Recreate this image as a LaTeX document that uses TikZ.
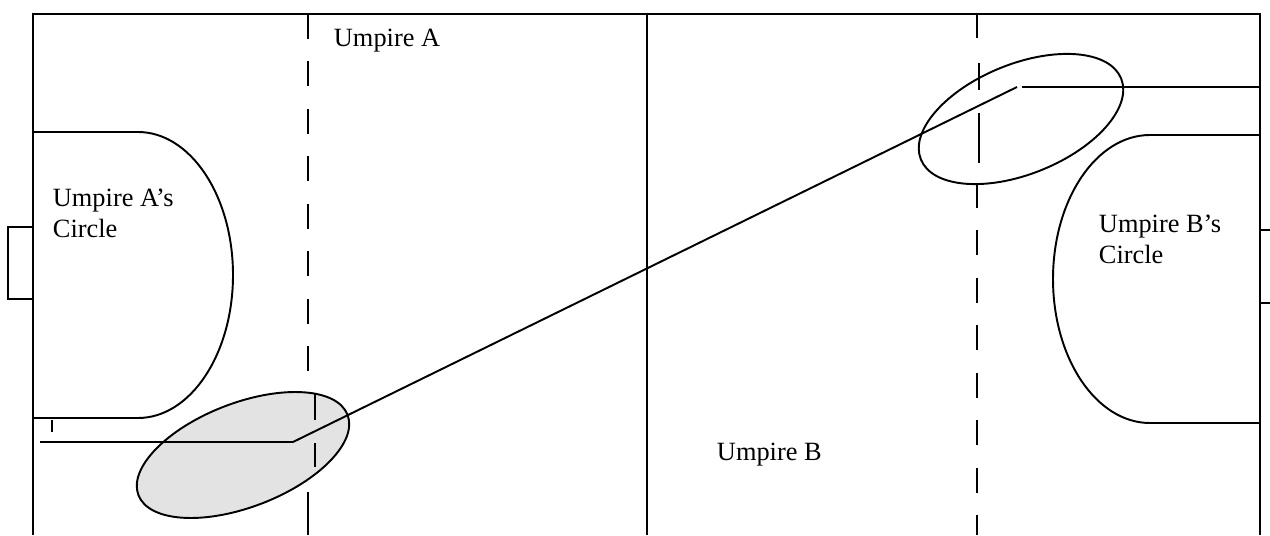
\documentclass[tikz,border=0pt]{standalone}
\usepackage{fontspec}
\setmainfont{Liberation Serif}
\begin{document}
\begin{tikzpicture}[x=0.02cm,y=0.02cm,line width=1.1pt,
        lbl/.style={font=\fontsize{15}{17.6}\selectfont,inner sep=0pt,align=left},
        zone/.style={line width=1.1pt},
        halfline/.style={dash pattern=on 0.5cm off 0.45cm}]
        \useasboundingbox (0,0) rectangle (1270,535);
        % umpire zones
            \draw[zone,fill=black!11,rotate around={21:(243,80)}] (243,80) ellipse (112 and 52);
            \draw[zone,rotate around={22:(1021,416)}] (1021,416) ellipse (108 and 55);
        % pitch
            \draw (33,0) -- (33,521) -- (1260,521) -- (1260,0);
            \draw (33,308) -- (8,308) -- (8,236) -- (33,236);
            \draw (1260,305) -- (1275,305);
            \draw (1260,232) -- (1275,232);
            \draw (647,521) -- (647,0);
            \draw (33,403) -- (138,403) arc[start angle=90,end angle=-90,x radius=95,y radius=143] -- (33,117);
            \draw (1260,400) -- (1150,400) arc[start angle=90,end angle=270,x radius=97,y radius=144] -- (1260,112);
        % dashed lines
            \draw[halfline] (308,521) -- (308,155);
            \foreach \a/\b in {142/115,92/68}{
                \draw (315,\a) -- (315,\b);
            }
            \draw (308,43) -- (308,0);
            \foreach \x/\a/\b in {977/521/497,979/472/445,979/422/372}{
                \draw (\x,\a) -- (\x,\b);
            }
            \draw[halfline] (977,352) -- (977,0);
        % ball path
            \coordinate (tickA) at (52,115);
            \coordinate (tickB) at (52,103);
            \coordinate (startA) at (40,93);
            \coordinate (turnA) at (293,93);
            \coordinate (turnB) at (1017,448);
            \coordinate (startB) at (1022,448);
            \coordinate (endB) at (1260,448);
            \draw (tickA) -- (tickB);
            \draw (startA) -- (turnA) -- (turnB);
            \draw (startB) -- (endB);
        % labels
            \node[lbl,anchor=base west] (umpA) at (333,488) {Umpire A};
            \node[lbl,anchor=base west] (umpB) at (716,75) {Umpire B};
            \node[lbl,anchor=base west] (circA) at (52,298) {Umpire A’s\\Circle};
            \node[lbl,anchor=base west] (circB) at (1098,272) {Umpire B’s\\Circle};
\end{tikzpicture}
\end{document}
